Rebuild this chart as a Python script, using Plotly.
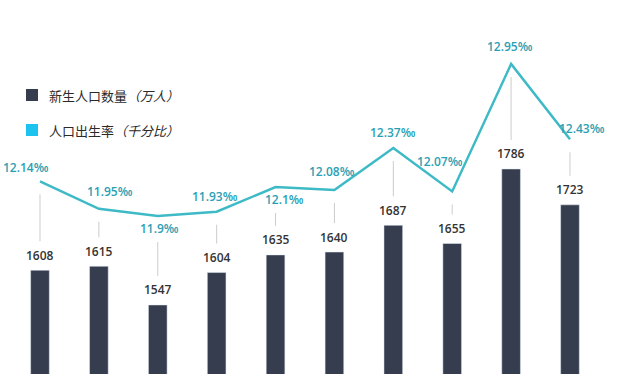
import plotly.graph_objects as go

years = ["2008", "2009", "2010", "2011", "2012", "2013", "2014", "2015", "2016", "2017"]
births = [1608, 1615, 1547, 1604, 1635, 1640, 1687, 1655, 1786, 1723]
rates = [12.14, 11.95, 11.9, 11.93, 12.1, 12.08, 12.37, 12.07, 12.95, 12.43]
legend_names = ["新生人口数量", "人口出生率"]
legend_units = ["（万人）", "（千分比）"]

# styling / placement (pixels)
W, H = 640, 374
BAR_COLOR = "#353d4e"
LINE_COLOR = "#3dbac6"
LABEL_COLOR = "#2b9fb4"
LEGEND_CYAN = "#1cc3ef"
label_offsets = [(-14, 14), (11, 17), (2, -12), (-2, 15), (9, -12),
                 (-2, 18), (0, 15), (-12, 30), (-1, 18), (12, 11)]
x_range = [-0.679, 10.189]
y_range = [1425.7, 2083.0]
y2_range = [10.809, 13.392]

fig = go.Figure()
fig.add_trace(go.Bar(x=years, y=births, marker_color=BAR_COLOR, width=0.317,
                     showlegend=False, hoverinfo="skip"))
fig.add_trace(go.Scatter(x=years, y=rates, yaxis="y2", mode="lines",
                         line=dict(color=LINE_COLOR, width=2.5),
                         showlegend=False, hoverinfo="skip"))

annotations = []
shapes = []
for i, (yr, b, r) in enumerate(zip(years, births, rates)):
    annotations.append(dict(x=i, y=b, xref="x", yref="y", text=str(b),
                            showarrow=False, yshift=15,
                            font=dict(family="Open Sans", size=12, color="#333333", weight=600),
                            xanchor="center", yanchor="middle"))
    dx, dy = label_offsets[i]
    annotations.append(dict(x=i, y=r, xref="x", yref="y2", text=f"{r:g}‰",
                            showarrow=False, xshift=dx, yshift=dy,
                            font=dict(family="Open Sans", size=12, color=LABEL_COLOR, weight=600),
                            xanchor="center", yanchor="middle"))
    # leader line from under the rate point/label down to above the bar label
    bar_px = (y_range[1] - b) / (y_range[1] - y_range[0]) * H
    pt_px = (y2_range[1] - r) / (y2_range[1] - y2_range[0]) * H
    top_px = pt_px + (26 if dy < 0 else 13)
    bot_px = bar_px - 29
    shapes.append(dict(type="line", xref="x", yref="paper", x0=i, x1=i,
                       y0=1 - top_px / H, y1=1 - bot_px / H,
                       line=dict(color="#cccccc", width=1), layer="below"))

# legend drawn manually
leg_y = [95, 130]
leg_colors = [BAR_COLOR, LEGEND_CYAN]
for name, unit, py, col in zip(legend_names, legend_units, leg_y, leg_colors):
    shapes.append(dict(type="rect", xref="paper", yref="paper",
                       x0=26 / W, x1=38 / W, y0=1 - (py + 6) / H, y1=1 - (py - 6) / H,
                       fillcolor=col, line=dict(width=0)))
    annotations.append(dict(x=47 / W, y=1 - py / H, xref="paper", yref="paper",
                            text=f"{name}<i>{unit}</i>", showarrow=False,
                            xanchor="left", yanchor="middle",
                            font=dict(family="Noto Sans CJK SC", size=13, color="#2a2a2a")))

fig.update_layout(
    width=W, height=H, autosize=False,
    margin=dict(l=0, r=0, t=0, b=0, pad=0),
    paper_bgcolor="white", plot_bgcolor="white",
    xaxis=dict(range=x_range, visible=False, type="category"),
    yaxis=dict(range=y_range, visible=False),
    yaxis2=dict(range=y2_range, visible=False, overlaying="y"),
    annotations=annotations, shapes=shapes,
)

fig.write_html("out.html", config={"displayModeBar": False},
               post_script="document.body.style.margin='0';document.body.style.overflow='hidden';")
